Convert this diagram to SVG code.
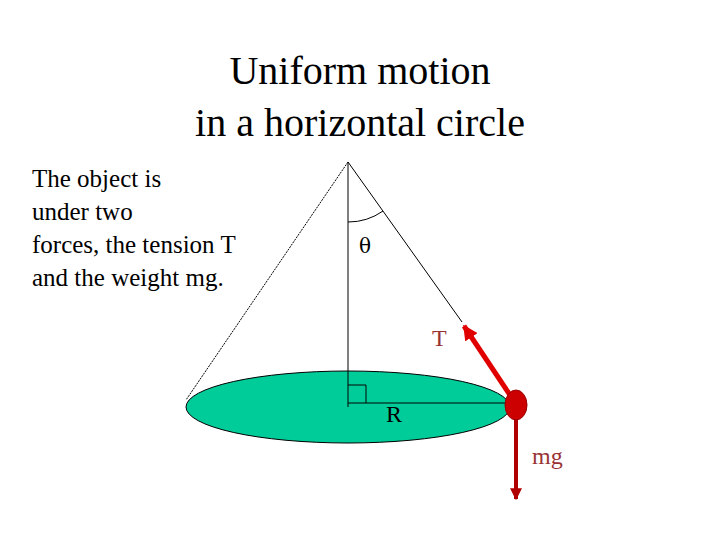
<svg xmlns="http://www.w3.org/2000/svg" width="720" height="540" viewBox="0 0 720 540">
<style>
text{font-family:"Liberation Serif","Times New Roman",serif;}
.t{font-size:40px;fill:#000;text-anchor:middle}
.b{font-size:25px;fill:#000}
.thin{stroke:#000;stroke-width:1;fill:none}
.lbl{font-size:24px;fill:#993333}
</style>
<defs>
<marker id="ah" viewBox="0 0 10 10" refX="9" refY="5" markerWidth="3" markerHeight="3" orient="auto"><path d="M0,0L10,5L0,10z" fill="#E00000"/></marker>
<marker id="ah2" viewBox="0 0 10 10" refX="9" refY="5" markerWidth="3" markerHeight="3" orient="auto"><path d="M0,0L10,5L0,10z" fill="#B00000"/></marker>
</defs>
<rect width="720" height="540" fill="#fff"/>
<text class="t" x="360" y="84">Uniform motion</text>
<text class="t" x="360" y="136">in a horizontal circle</text>
<text class="b" x="32" y="187">The object is</text>
<text class="b" x="32" y="220">under two</text>
<text class="b" x="32" y="253">forces, the tension T</text>
<text class="b" x="32" y="286">and the weight mg.</text>
<g id="disk"><ellipse cx="348" cy="407" rx="162" ry="36" fill="#00CC99" stroke="#000" stroke-width="1"/></g>
<g id="cone">
<path class="thin" d="M348,162L186,400" stroke-dasharray="2,1"/>
<path class="thin" d="M348,162L462,322"/>
<path class="thin" d="M348,162L348,407"/>
<path class="thin" d="M348,222A60,60 0 0 0 383,211"/>
<path class="thin" d="M348,385H366V403"/>
<path class="thin" d="M348,403H510"/>
</g>
<g id="connectors">
<line x1="510" y1="395" x2="464" y2="326" stroke="#E00000" stroke-width="5" marker-end="url(#ah)"/>
<line x1="516" y1="418" x2="516" y2="499" stroke="#B00000" stroke-width="4" marker-end="url(#ah2)"/>
</g>
<g id="bob"><ellipse cx="516" cy="405" rx="11" ry="15" fill="#CC0000" stroke="#990000"/></g>
<text x="359" y="253" font-size="20" fill="#000" style="font-family:'DejaVu Serif',serif">θ</text>
<text class="lbl" x="432" y="346">T</text>
<text x="386" y="422" font-size="24" fill="#000">R</text>
<text class="lbl" x="532" y="464">mg</text>
</svg>
